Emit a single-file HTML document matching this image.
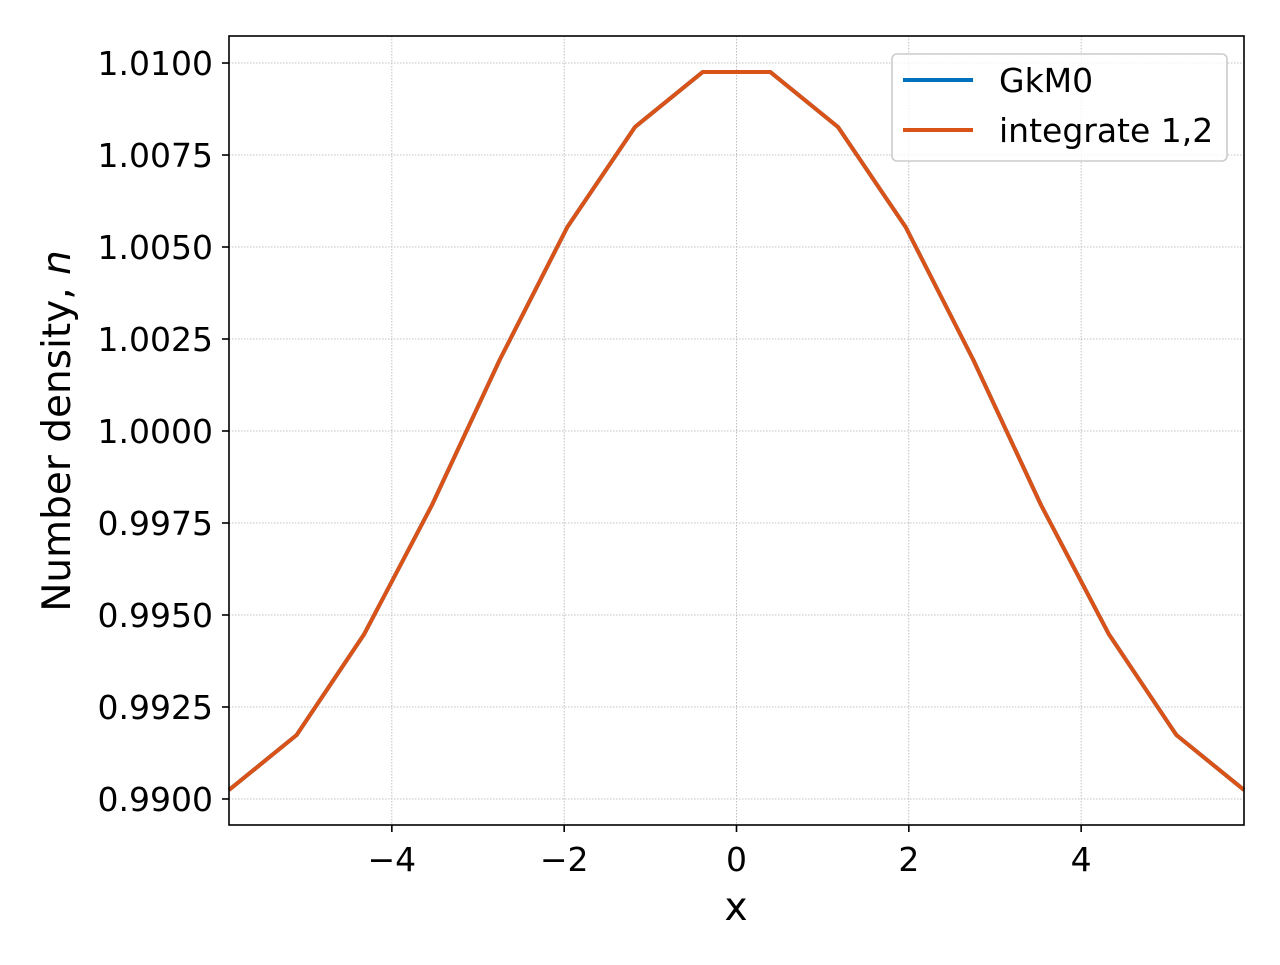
<!DOCTYPE html>
<html><head><meta charset="utf-8"><style>
body{margin:0;background:#fff;}
svg text{font-family:"DejaVu Sans","Liberation Sans",sans-serif;fill:#000;}
</style></head><body>
<svg id="chart" width="1280" height="960" xmlns="http://www.w3.org/2000/svg">
<rect width="1280" height="960" fill="#fff"/>
<g id="grid"></g>
<g id="series"></g>
<rect x="229" y="36" width="1015" height="789" fill="none" stroke="#000" stroke-width="1.6"/>
<g id="xticks"></g>
<g id="yticks"></g>
<text x="736" y="920" font-size="39" text-anchor="middle">x</text>
<text transform="translate(70,431) rotate(-90)" font-size="39" text-anchor="middle">Number density, <tspan font-style="italic">n</tspan></text>
<g>
<rect x="892" y="54" width="335" height="107" rx="5" fill="#fff" fill-opacity="0.8" stroke="#ccc" stroke-width="1.6"/>
<line x1="903" y1="80" x2="973" y2="80" stroke="#0072bd" stroke-width="4"/>
<text x="999" y="92" font-size="33">GkM0</text>
<line x1="903" y1="130" x2="973" y2="130" stroke="#d95319" stroke-width="4"/>
<text x="999" y="142" font-size="33">integrate 1,2</text>
</g>
</svg>
<script>
const xVals=[-5.890,-5.105,-4.320,-3.534,-2.749,-1.963,-1.178,-0.393,0.393,1.178,1.963,2.749,3.534,4.320,5.105,5.890];
const gkm0=[0.990245,0.991739,0.994484,0.997989,1.001929,1.005543,1.008261,1.009755,1.009755,1.008261,1.005543,1.001929,0.997989,0.994484,0.991739,0.990245];
const integrate12=[0.990245,0.991739,0.994484,0.997989,1.001929,1.005543,1.008261,1.009755,1.009755,1.008261,1.005543,1.001929,0.997989,0.994484,0.991739,0.990245];
const xTicks=[-4,-2,0,2,4];
const xTickLabels=["\u22124","\u22122","0","2","4"];
const yTicks=[0.99,0.9925,0.995,0.9975,1.0,1.0025,1.005,1.0075,1.01];
const yTickLabels=["0.9900","0.9925","0.9950","0.9975","1.0000","1.0025","1.0050","1.0075","1.0100"];
const X0=229,X1=1244,Y0=36,Y1=825,xmin=-5.890,xmax=5.890,ymin=0.989293,ymax=1.010734;
const sx=v=>X0+(v-xmin)/(xmax-xmin)*(X1-X0);
const sy=v=>Y1-(v-ymin)/(ymax-ymin)*(Y1-Y0);
const NS="http://www.w3.org/2000/svg";
function mk(tag,attrs,parent){const e=document.createElementNS(NS,tag);for(const k in attrs)e.setAttribute(k,attrs[k]);parent.appendChild(e);return e;}
const grid=document.getElementById('grid'),xt=document.getElementById('xticks'),yt=document.getElementById('yticks'),ser=document.getElementById('series');
xTicks.forEach((v,i)=>{const x=sx(v);
 const g=mk('line',{x1:x,x2:x,y1:Y0,y2:Y1,stroke:'#b0b0b0','stroke-width':0.8,'stroke-dasharray':'1.5,1.5'},grid);
 
 
 const t=mk('line',{x1:x,x2:x,y1:Y1,y2:Y1+7,stroke:'#000','stroke-width':1.6},xt);
 
 
 const l=mk('text',{x:x,y:Y1+46,'font-size':33,'text-anchor':'middle'},xt);l.textContent=xTickLabels[i];
 
 
});
yTicks.forEach((v,i)=>{const y=sy(v);
 const g=mk('line',{x1:X0,x2:X1,y1:y,y2:y,stroke:'#b0b0b0','stroke-width':0.8,'stroke-dasharray':'1.5,1.5'},grid);
 
 
 const t=mk('line',{x1:X0-7,x2:X0,y1:y,y2:y,stroke:'#000','stroke-width':1.6},yt);
 
 
 const l=mk('text',{x:X0-16,y:y+12,'font-size':33,'text-anchor':'end'},yt);l.textContent=yTickLabels[i];
 
 
});
function line(vals,color,name){
 const p=mk('polyline',{points:xVals.map((x,i)=>sx(x)+','+sy(vals[i])).join(' '),fill:'none',stroke:color,'stroke-width':4,'stroke-linejoin':'round'},ser);
 
 
}
line(gkm0,'#0072bd','gkm0-line');
line(integrate12,'#d95319','integrate-line');
</script>
</body></html>
